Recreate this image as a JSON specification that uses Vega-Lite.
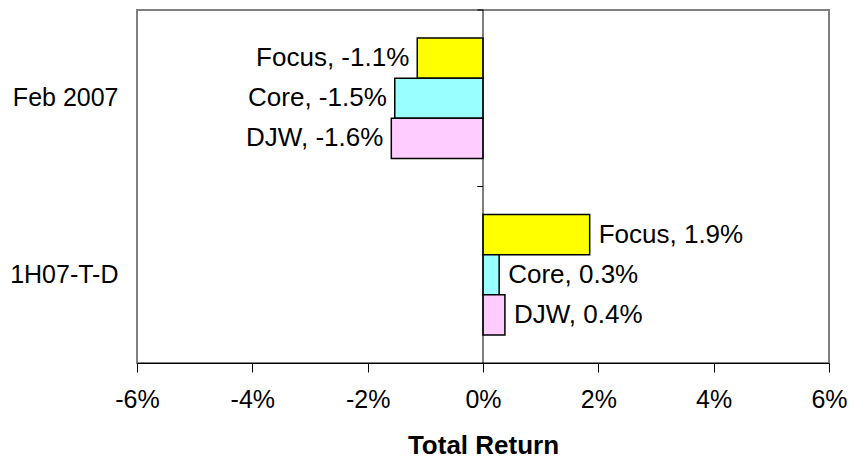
{
  "$schema": "https://vega.github.io/schema/vega-lite/v6.json",
  "width": 692,
  "height": 353,
  "autosize": {"type": "none"},
  "padding": {"left": 137, "top": 10, "right": 26, "bottom": 98},
  "background": "white",
  "config": {
    "font": "Liberation Sans",
    "view": {"stroke": "#808080", "strokeWidth": 2},
    "axis": {"grid": false}
  },
  "data": {
    "values": [
      {"period": "Feb 2007", "fund": "Focus", "value": -0.0114, "label": "Focus, -1.1%"},
      {"period": "Feb 2007", "fund": "Core", "value": -0.0153, "label": "Core, -1.5%"},
      {"period": "Feb 2007", "fund": "DJW", "value": -0.0159, "label": "DJW, -1.6%"},
      {"period": "1H07-T-D", "fund": "Focus", "value": 0.0185, "label": "Focus, 1.9%"},
      {"period": "1H07-T-D", "fund": "Core", "value": 0.0028, "label": "Core, 0.3%"},
      {"period": "1H07-T-D", "fund": "DJW", "value": 0.0038, "label": "DJW, 0.4%"}
    ]
  },
  "encoding": {
    "y": {
      "field": "period",
      "type": "nominal",
      "sort": ["Feb 2007", "1H07-T-D"],
      "scale": {"paddingInner": 0, "paddingOuter": 0},
      "axis": {"title": null, "ticks": false, "domain": false, "labelFontSize": 25, "labelColor": "black", "labelPadding": 19}
    }
  },
  "layer": [
    {
      "mark": {"type": "bar", "stroke": "black", "strokeWidth": 1.5},
      "encoding": {
        "x": {
          "field": "value",
          "type": "quantitative",
          "scale": {"domain": [-0.06, 0.06], "nice": false},
          "axis": {
            "values": [-0.06, -0.04, -0.02, 0, 0.02, 0.04, 0.06],
            "format": ".0%",
            "labelExpr": "replace(datum.label, '\u2212', '-')",
            "title": "Total Return",
            "titleFontSize": 26,
            "titleFontWeight": "bold",
            "titleColor": "black",
            "titlePadding": 20,
            "labelFontSize": 25,
            "labelColor": "black",
            "labelPadding": 15,
            "tickSize": 9,
            "tickColor": "black",
            "domainColor": "black",
            "domainWidth": 1,
            "labelFlush": false
          }
        },
        "yOffset": {
          "field": "fund",
          "type": "nominal",
          "sort": ["Focus", "Core", "DJW"],
          "scale": {"paddingInner": 0, "paddingOuter": 0.7}
        },
        "color": {
          "field": "fund",
          "type": "nominal",
          "scale": {"domain": ["Focus", "Core", "DJW"], "range": ["#FFFF00", "#99FFFF", "#FFCCFF"]},
          "legend": null
        }
      }
    },
    {
      "transform": [{"filter": "datum.value < 0"}],
      "mark": {"type": "text", "align": "right", "baseline": "middle", "dx": -8, "fontSize": 26, "color": "black"},
      "encoding": {
        "x": {"field": "value", "type": "quantitative"},
        "yOffset": {"field": "fund", "type": "nominal", "sort": ["Focus", "Core", "DJW"]},
        "text": {"field": "label"}
      }
    },
    {
      "transform": [{"filter": "datum.value >= 0"}],
      "mark": {"type": "text", "align": "left", "baseline": "middle", "dx": 9, "fontSize": 26, "color": "black"},
      "encoding": {
        "x": {"field": "value", "type": "quantitative"},
        "yOffset": {"field": "fund", "type": "nominal", "sort": ["Focus", "Core", "DJW"]},
        "text": {"field": "label"}
      }
    },
    {
      "data": {"values": [{"zero": 0}]},
      "mark": {"type": "rule", "color": "black", "strokeWidth": 1},
      "encoding": {
        "x": {"field": "zero", "type": "quantitative"},
        "y": null
      }
    },
    {
      "data": {"values": [{"period": "Feb 2007", "x1": -0.001, "x2": 0}, {"period": "1H07-T-D", "x1": -0.001, "x2": 0}]},
      "mark": {"type": "rule", "color": "black", "strokeWidth": 1},
      "encoding": {
        "x": {"field": "x1", "type": "quantitative"},
        "x2": {"field": "x2"},
        "y": {"field": "period", "type": "nominal", "sort": ["Feb 2007", "1H07-T-D"], "bandPosition": 0}
      }
    }
  ]
}
